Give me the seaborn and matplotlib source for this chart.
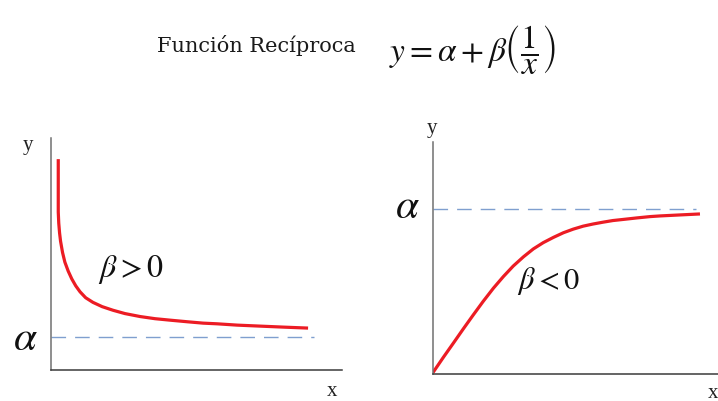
import matplotlib
matplotlib.use("Agg")
import matplotlib.pyplot as plt
import seaborn as sns
import pandas as pd

# Curve samples (x, y) for the two cases of y = alpha + beta / x
pos_x = [0.22, 0.22, 0.22, 0.235, 0.26, 0.29, 0.35, 0.42, 0.52, 0.63, 0.75, 0.88, 1.05,
         1.27, 1.55, 1.88, 2.24, 2.70, 3.15, 3.61, 4.15, 4.61, 5.03, 5.64, 6.33, 7.03, 7.79]
pos_y = [6.39, 5.50, 4.79, 4.45, 4.15, 3.90, 3.56, 3.27, 3.00, 2.76, 2.55, 2.37, 2.19,
         2.05, 1.92, 1.81, 1.71, 1.62, 1.555, 1.51, 1.46, 1.42, 1.40, 1.36, 1.33, 1.30, 1.27]

neg_x = [0.00, 0.31, 0.62, 0.92, 1.22, 1.52, 1.83, 2.13, 2.43, 2.74, 3.04, 3.34, 3.65,
         3.95, 4.25, 4.55, 4.85, 5.15, 5.45, 5.82, 6.18, 6.58, 6.88, 7.48, 8.09]
neg_y = [0.045, 0.50, 0.94, 1.37, 1.79, 2.20, 2.60, 2.95, 3.27, 3.55, 3.79, 3.98, 4.14,
         4.28, 4.39, 4.48, 4.545, 4.60, 4.65, 4.69, 4.73, 4.77, 4.79, 4.82, 4.85]

alpha_pos = 1.0
alpha_neg = 5.0
asymptote_end = 7.97

title_text = "Función Recíproca"
formula_text = r"$y=\alpha+\beta\left(\dfrac{1}{x}\right)$"
label_pos = r"$\beta>0$"
label_neg = r"$\beta<0$"

sns.set_style("white")
plt.rcParams["mathtext.fontset"] = "stix"
plt.rcParams["font.family"] = ["DejaVu Serif"]

W, H = 718, 402
fig = plt.figure(figsize=(W / 100, H / 100), dpi=100)
fig.patch.set_facecolor("white")

PX = 33.0  # pixels per data unit


def make_axes(x0, y0, w, h):
    ax = fig.add_axes([x0 / W, (H - y0) / H, w / W, h / H])
    ax.set_xlim(0, w / PX)
    ax.set_ylim(0, h / PX)
    ax.set_xticks([])
    ax.set_yticks([])
    for s in ("top", "right"):
        ax.spines[s].set_visible(False)
    ax.spines["left"].set_color("#707070")
    ax.spines["left"].set_linewidth(1.1)
    ax.spines["bottom"].set_color("#3a3a3a")
    ax.spines["bottom"].set_linewidth(1.1)
    ax.patch.set_alpha(0)
    return ax


red = "#ec1c24"
dash_col = "#7f9fcf"

# Left panel: beta > 0
ax1 = make_axes(51, 371, 291, 232)
ax1.plot([0, asymptote_end], [alpha_pos, alpha_pos], color=dash_col, lw=1.0,
         dashes=(10.5, 6.5))
sns.lineplot(data=pd.DataFrame({"x": pos_x, "y": pos_y}), x="x", y="y", ax=ax1,
             sort=False, estimator=None, color=red, lw=2.3,
             solid_joinstyle="round", solid_capstyle="butt")
ax1.set_xlabel("")
ax1.set_ylabel("")

# Right panel: beta < 0
ax2 = make_axes(433, 375, 285, 232)
ax2.plot([0, asymptote_end], [alpha_neg, alpha_neg], color=dash_col, lw=1.0,
         dashes=(10.5, 6.5))
sns.lineplot(data=pd.DataFrame({"x": neg_x, "y": neg_y}), x="x", y="y", ax=ax2,
             sort=False, estimator=None, color=red, lw=2.3,
             solid_joinstyle="round", solid_capstyle="butt")
ax2.set_xlabel("")
ax2.set_ylabel("")


def ftext(px, py, s, **kw):
    fig.text(px / W, 1 - py / H, s, ha="center", va="center", **kw)


serif = ["Liberation Serif", "DejaVu Serif"]
ftext(256, 46, title_text, fontsize=15, family=["DejaVu Serif"], color="#1a1a1a")
ftext(472, 50, formula_text, fontsize=24, color="#111111")

ftext(28, 146, "y", fontsize=15, family=serif, color="#222222")
ftext(332, 392, "x", fontsize=15, family=serif, color="#222222")
ftext(432, 128, "y", fontsize=15, family=serif, color="#222222")
ftext(713, 394, "x", fontsize=15, family=serif, color="#222222")

ftext(25, 338, r"$\alpha$", fontsize=30, color="#111111")
ftext(407, 206, r"$\alpha$", fontsize=30, color="#111111")

ftext(131, 270, label_pos, fontsize=23, color="#111111")
ftext(548, 281, label_neg, fontsize=22, color="#111111")

fig.savefig("out.png", dpi=100, facecolor="white")
